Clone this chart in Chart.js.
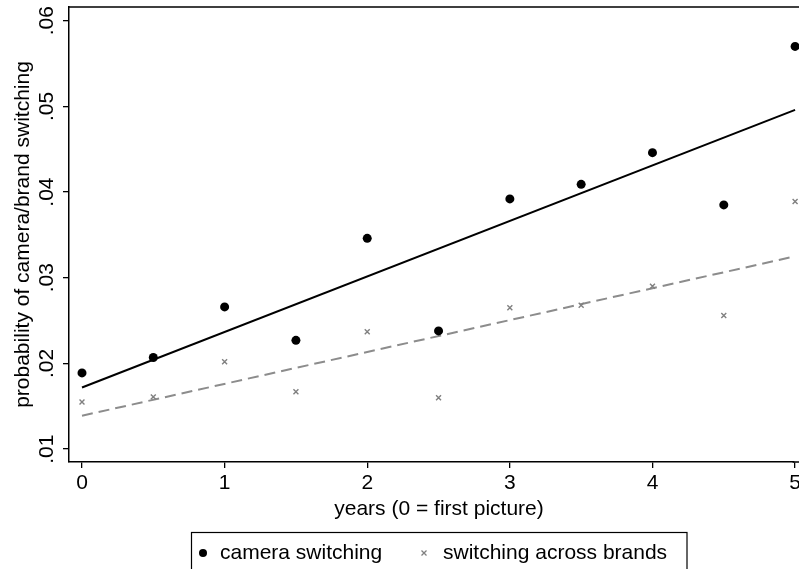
<!DOCTYPE html>
<html>
<head>
<meta charset="utf-8">
<script src="https://cdn.jsdelivr.net/npm/chart.js@4"></script>
<style>
  html, body { margin: 0; padding: 0; background: #fff; }
  #wrap { width: 799px; height: 569px; }
</style>
</head>
<body>
<div id="wrap"><canvas id="chart" width="799" height="569"></canvas></div>
<script>
// years since first picture
const years = [0, 0.5, 1, 1.5, 2, 2.5, 3, 3.5, 4, 4.5, 5];
const cameraSwitching = [0.0189, 0.0207, 0.0266, 0.0227, 0.0346, 0.0238, 0.0392, 0.0409, 0.0446, 0.0385, 0.0570];
const brandSwitching = [0.0155, 0.0161, 0.0202, 0.0167, 0.0237, 0.0160, 0.0265, 0.0268, 0.0290, 0.0256, 0.0389];

// fitted lines, read at both ends
const fitYears = [0, 5];
const cameraFit = [0.0172, 0.0496];
const brandFit = [0.0139, 0.0325];

const xTicks = [0, 1, 2, 3, 4, 5];
const yTicks = [0.01, 0.02, 0.03, 0.04, 0.05, 0.06];

const FONT = '"Liberation Sans", Arial, sans-serif';

function toPoints(xs, ys) {
    return xs.map((x, i) => ({ x: x, y: ys[i] }));
}

// tick labels, titles, frame lines and legend box
const textPlugin = {
    id: 'textPlugin',
    afterDraw(chart) {
        const ctx = chart.ctx;
        const area = chart.chartArea;
        const xScale = chart.scales.x;
        const yScale = chart.scales.y;
        ctx.save();

        // top line, and the x axis running on to the right edge
        ctx.strokeStyle = '#000';
        ctx.lineWidth = 1.5;
        ctx.beginPath();
        ctx.moveTo(area.left, area.top);
        ctx.lineTo(chart.width, area.top);
        ctx.moveTo(area.right - 1, area.bottom);
        ctx.lineTo(chart.width, area.bottom);
        ctx.stroke();

        ctx.fillStyle = '#000';
        ctx.font = '21px ' + FONT;
        ctx.textAlign = 'center';
        ctx.textBaseline = 'middle';

        xTicks.forEach(v => {
            ctx.fillText(String(v), xScale.getPixelForValue(v), 483);
        });

        yTicks.forEach(v => {
            const y = yScale.getPixelForValue(v);
            ctx.save();
            ctx.translate(47, y);
            ctx.rotate(-Math.PI / 2);
            ctx.fillText(v.toFixed(2).replace(/^0/, ''), 0, 0);
            ctx.restore();
        });

        ctx.save();
        ctx.translate(23, (area.top + area.bottom) / 2);
        ctx.rotate(-Math.PI / 2);
        ctx.fillText('probability of camera/brand switching', 0, 0);
        ctx.restore();

        ctx.fillText('years (0 = first picture)', 439, 509);

        // legend
        ctx.lineWidth = 1.2;
        ctx.strokeRect(191.5, 532.5, 495.5, 45);
        ctx.beginPath();
        ctx.arc(203, 553, 4, 0, Math.PI * 2);
        ctx.fill();
        ctx.textAlign = 'left';
        ctx.fillText('camera switching', 220, 553);

        ctx.strokeStyle = '#808080';
        ctx.lineWidth = 1.3;
        ctx.beginPath();
        ctx.moveTo(421.5, 550.5); ctx.lineTo(426.5, 555.5);
        ctx.moveTo(426.5, 550.5); ctx.lineTo(421.5, 555.5);
        ctx.stroke();
        ctx.fillText('switching across brands', 443, 553);

        ctx.restore();
    }
};

new Chart(document.getElementById('chart'), {
    type: 'scatter',
    data: {
        datasets: [
            {
                label: 'camera switching',
                data: toPoints(years, cameraSwitching),
                pointStyle: 'circle',
                pointRadius: 4.5,
                backgroundColor: '#000',
                borderColor: '#000',
                borderWidth: 0,
                order: 0
            },
            {
                label: 'switching across brands',
                data: toPoints(years, brandSwitching),
                pointStyle: 'crossRot',
                pointRadius: 3.5,
                borderColor: '#808080',
                borderWidth: 1.4,
                order: 0
            },
            {
                label: 'camera fit',
                type: 'line',
                data: toPoints(fitYears, cameraFit),
                borderColor: '#000',
                borderWidth: 2,
                pointRadius: 0,
                order: 1
            },
            {
                label: 'brand fit',
                type: 'line',
                data: toPoints(fitYears, brandFit),
                borderColor: '#8c8c8c',
                borderWidth: 2,
                borderDash: [11, 6],
                pointRadius: 0,
                order: 1
            }
        ]
    },
    options: {
        responsive: false,
        animation: false,
        clip: false,
        layout: { padding: { top: 7, right: 0, left: 0, bottom: 0 } },
        plugins: {
            legend: { display: false },
            tooltip: { enabled: false }
        },
        scales: {
            x: {
                type: 'linear',
                min: -0.0911,
                max: 4.9895,
                afterBuildTicks: scale => { scale.ticks = xTicks.map(v => ({ value: v })); },
                afterFit: scale => { scale.height = 107; },
                border: { display: true, color: '#000', width: 1.5 },
                grid: { drawOnChartArea: false, drawTicks: true, tickLength: 6, color: '#000', lineWidth: 1.3 },
                ticks: { callback: () => '', maxRotation: 0 }
            },
            y: {
                type: 'linear',
                min: 0.0085,
                max: 0.0616,
                afterBuildTicks: scale => { scale.ticks = yTicks.map(v => ({ value: v })); },
                afterFit: scale => {
                    scale.width = 69;
                    scale.paddingTop = 0;
                    scale.paddingBottom = 0;
                },
                border: { display: true, color: '#000', width: 1.5 },
                grid: { drawOnChartArea: false, drawTicks: true, tickLength: 6, color: '#000', lineWidth: 1.3 },
                ticks: { callback: () => '' }
            }
        }
    },
    plugins: [textPlugin]
});
</script>
</body>
</html>
